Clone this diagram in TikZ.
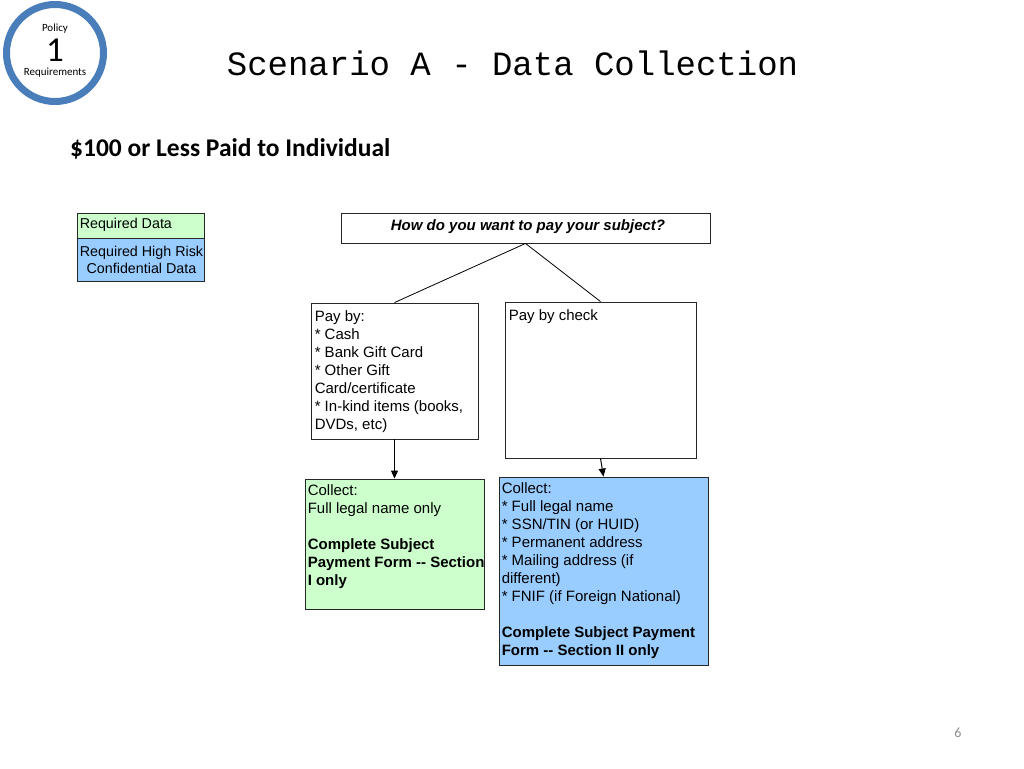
\documentclass[tikz,border=0pt]{standalone}
\usepackage{fontspec}
\setmainfont{Liberation Sans}
\newfontfamily\titlefont{Liberation Mono}
\newfontfamily\calfont{Carlito}
\usetikzlibrary{arrows.meta,calc}
\definecolor{ringblue}{RGB}{74,126,187}
\definecolor{lgreen}{RGB}{204,255,204}
\definecolor{lblue}{RGB}{153,204,255}
\definecolor{pgray}{RGB}{140,140,140}
\begin{document}
\begin{tikzpicture}[x=1pt,y=-1pt,
  box/.style={draw=black!85, line width=0.9pt, rectangle, inner sep=0pt},
  txt/.style={anchor=north west, inner sep=0pt, align=left, font=\fontsize{15}{18}\selectfont},
  legtxt/.style={inner sep=0pt, align=center, font=\fontsize{14.3}{17}\selectfont},
  conn/.style={line width=0.8pt, black},
  arr/.style={line width=1pt, black, -{Triangle[width=7pt,length=8pt]}}]
\useasboundingbox (0,0) rectangle (1024,768);
% badge
\draw[ringblue, line width=7pt] (55,53) circle[radius=48.5];
\node[font=\calfont\fontsize{11}{12}\selectfont, inner sep=0pt] (pol) at (55,29) {Policy};
\node[font=\calfont\fontsize{35}{35}\selectfont, inner sep=0pt, text height=22pt, text depth=0pt] (one) at (55,50) {1};
\node[font=\calfont\fontsize{11}{12}\selectfont, inner sep=0pt] (req) at (55,72.5) {Requirements};
% title
\node[font=\titlefont\fontsize{34}{40}\selectfont] (title) at (512.5,63) {Scenario A - Data Collection};
\node[anchor=west, inner sep=0pt, font=\calfont\bfseries\fontsize{25.5}{28}\selectfont] (sub) at (70,149) {\$100 or Less Paid to Individual};
% legend
\node[box, fill=lgreen, minimum width=127pt, minimum height=25pt] (leg1) at (140.5,225.5) {};
\node[box, fill=lblue, minimum width=127pt, minimum height=43pt] (leg2) at (140.5,259.5) {};
\node[txt, font=\fontsize{14.3}{17}\selectfont] (leg1t) at ($(leg1.north west)+(3,5)$) {Required Data};
\node[legtxt] (leg2t) at ($(leg2.center)+(1,0)$) {Required High Risk\\Confidential Data};
% question
\node[box, minimum width=369pt, minimum height=30pt] (q) at (525.5,228) {};
\node[font=\bfseries\itshape\fontsize{15}{16}\selectfont, inner sep=0pt] (qt) at (528,227) {How do you want to pay your subject?};
% pay boxes
\node[box, minimum width=167pt, minimum height=136pt] (pay) at (394.5,371) {};
\node[txt] (payt) at ($(pay.north west)+(4,8)$) {Pay by:\\* Cash\\* Bank Gift Card\\* Other Gift\\Card/certificate\\* In-kind items (books,\\DVDs, etc)};
\node[box, minimum width=191pt, minimum height=156pt] (chk) at (600.5,380) {};
\node[txt] (chkt) at ($(chk.north west)+(4,8)$) {Pay by check};
% collect boxes
\node[box, fill=lgreen, minimum width=179pt, minimum height=130pt] (col1) at (394.5,544) {};
\node[txt] (col1t) at ($(col1.north west)+(3,6)$) {Collect:\\Full legal name only\\[18pt]\textbf{Complete Subject}\\\textbf{Payment Form -{}- Section}\\\textbf{I only}};
\node[box, fill=lblue, minimum width=209pt, minimum height=188pt] (col2) at (603.5,571) {};
\node[txt] (col2t) at ($(col2.north west)+(3,6)$) {Collect:\\* Full legal name\\* SSN/TIN (or HUID)\\* Permanent address\\* Mailing address (if\\different)\\* FNIF (if Foreign National)\\[18pt]\textbf{Complete Subject Payment}\\\textbf{Form -{}- Section II only}};
% connectors
\draw[conn] (q.south) -- (pay.north);
\draw[conn] (q.south) -- (chk.north);
\draw[arr] (pay.south) -- (col1.north);
\draw[arr] (chk.south) -- (col2.north);
% page number
\node[font=\calfont\fontsize{14}{16}\selectfont, text=pgray] (pg) at (958,733) {6};
\end{tikzpicture}
\end{document}
